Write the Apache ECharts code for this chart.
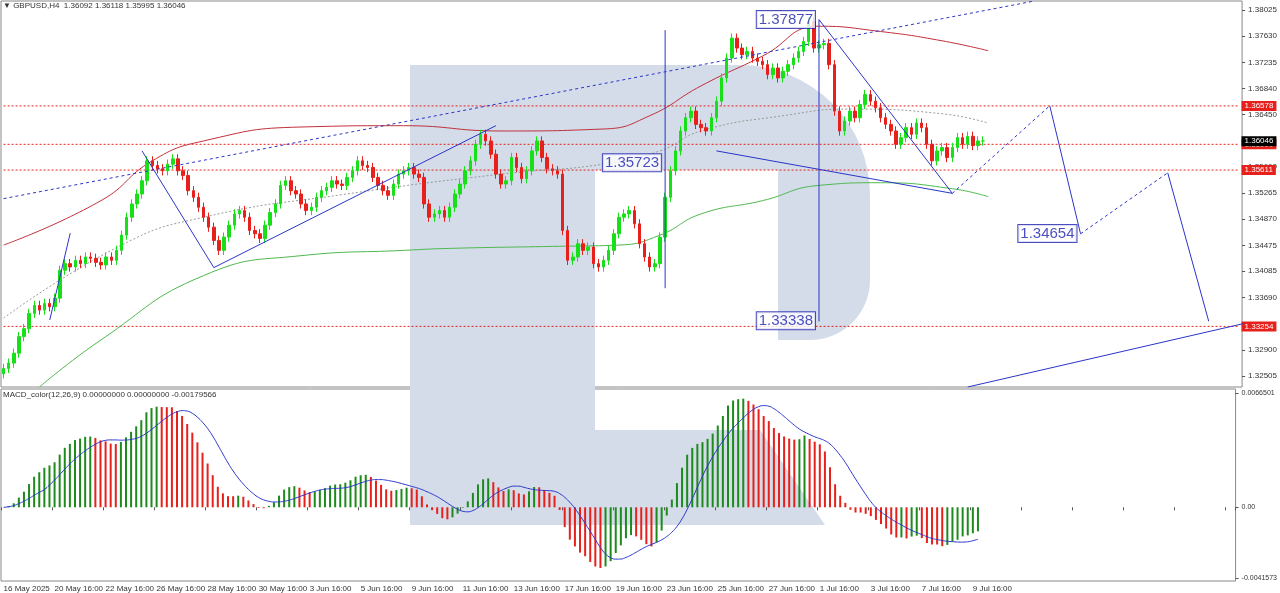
<!DOCTYPE html>
<html><head><meta charset="utf-8">
<script src="https://cdn.jsdelivr.net/npm/echarts@6/dist/echarts.min.js"></script>
<style>html,body{margin:0;padding:0;background:#fff}#c{width:1280px;height:593px}</style>
</head><body><div id="c"></div>
<script>
const closes=[1.3262,1.3270,1.3285,1.3310,1.3322,1.3345,1.3357,1.3350,1.3360,1.3355,1.3368,
1.3410,1.3420,1.3415,1.3425,1.3420,1.3430,1.3428,1.3422,1.3418,1.3430,1.3425,1.3440,
1.3463,1.3490,1.3510,1.3525,1.3545,1.3575,1.3568,1.3563,1.3560,1.3570,1.3578,1.3560,
1.3553,1.3530,1.3520,1.3505,1.3490,1.3475,1.3455,1.3440,1.3460,1.3478,1.3495,1.3500,1.3490,
1.3470,1.3465,1.3458,1.3478,1.3497,1.3510,1.3538,1.3545,1.3530,1.3525,1.3510,1.3500,1.3505,
1.3520,1.3530,1.3535,1.3545,1.3540,1.3538,1.3550,1.3560,
1.3575,1.3568,1.3565,1.3550,1.3538,1.3530,1.3523,1.3540,1.3555,1.3560,1.3565,1.3555,
1.3550,1.3510,1.3490,1.3495,1.3500,1.3490,1.3505,
1.3525,1.3540,1.3560,1.3575,1.3600,1.3615,1.3605,1.3585,1.3555,1.3540,
1.3545,1.3580,1.3565,1.3548,1.3560,1.3590,1.3605,1.3580,1.3563,1.3560,1.3555,
1.3470,1.3425,1.3430,1.3450,1.3440,1.3445,1.3420,1.3415,1.3425,1.3440,
1.3465,1.3490,1.3495,1.3500,1.3480,1.3450,1.3430,1.3415,
1.3420,1.3460,1.3520,1.3560,1.3590,1.3620,1.3640,1.3650,1.3630,1.3625,
1.3620,1.3640,1.3665,1.3700,1.3730,1.3760,1.3745,1.3735,1.3740,1.3730,
1.3725,1.3720,1.3705,1.3715,1.3700,1.3710,1.3720,1.3730,1.3740,1.3755,
1.3785,1.3745,1.3750,1.3752,1.3720,1.3650,1.3620,1.3635,1.3650,1.3640,
1.3660,1.3675,1.3665,1.3655,1.3640,1.3630,1.3620,1.3600,1.3610,1.3625,
1.3615,1.3632,1.3625,1.3600,1.3575,1.3590,1.3595,1.3580,1.3595,1.3610,1.3600,1.3612,1.3598,1.3605,1.3605];
const totalBars=242;
const dateLabels=["16 May 2025","20 May 16:00","22 May 16:00","26 May 16:00","28 May 16:00","30 May 16:00","3 Jun 16:00","5 Jun 16:00","9 Jun 16:00","11 Jun 16:00","13 Jun 16:00","17 Jun 16:00","19 Jun 16:00","23 Jun 16:00","25 Jun 16:00","27 Jun 16:00","1 Jul 16:00","3 Jul 16:00","7 Jul 16:00","9 Jul 16:00"];
const priceTicks=[1.32505,1.32900,1.33690,1.34085,1.34475,1.34870,1.35265,1.35660,1.36450,1.36840,1.37235,1.37630,1.38025];
const macdTicks=[-0.0041573,0,0.0066501];
const levelLines=[[1.36578,'1.36578'],[1.35999,'1.35999'],[1.35611,'1.35611'],[1.33254,'1.33254']];
const lastPrice=1.36046;
const maRed=[[0,1.3448],[19,1.3515],[29,1.3575],[38.5,1.3605],[58,1.3626],[77.5,1.3628],[97,1.3620],[116.5,1.3623],[126,1.3643],[136,1.3688],[148,1.3733],[159.3,1.3778],[171,1.3770],[182.7,1.3756],[192,1.3741]];
const maGreen=[[7.3,1.3234],[19,1.3305],[38.5,1.3402],[58,1.3432],[77.5,1.3440],[87.2,1.3443],[106.7,1.3446],[120.4,1.3448],[128.2,1.3463],[136,1.3495],[148,1.3515],[159.3,1.3538],[171,1.3542],[184.7,1.3533],[192,1.3521]];
const maDot=[[0,1.3338],[22.9,1.3448],[38.5,1.3490],[65.8,1.3524],[97,1.3555],[116.5,1.3570],[128.2,1.3590],[136,1.3620],[151.5,1.3643],[165.2,1.3653],[182.7,1.3646],[192,1.3632]];
const zig1=[[8.5,1.3335],[13.1,1.3466]];
const zig2=[[26.8,1.3590],[41.4,1.3414],[96.4,1.3628]];
const chan=[[138.9,1.3590],[184.7,1.3526]];
const drop=[[158.8,1.3788],[184.7,1.3526]];
const vert1=[[128.9,1.3772],[128.9,1.3383]];
const vert2=[[159.1,1.3788],[159.1,1.3333]];
const longDot=[[0,1.3518],[201.3,1.3816]];
const fcDot1=[[184.7,1.3526],[204.2,1.3658]];
const fcSolid1=[[204.2,1.3658],[210.4,1.3465]];
const fcDot2=[[210.4,1.3465],[227.2,1.3557]];
const fcSolid2=[[227.2,1.3557],[234.8,1.3333]];
const baseLine=[[187.6,1.3234],[241.5,1.3330]];
const boxLabels=[[158.8,1.3788,'1.37877'],[128.9,1.35723,'1.35723'],[210.4,1.34654,'1.34654'],[159.1,1.33338,'1.33338']];

const cats=[];for(let i=0;i<totalBars;i++)cats.push(String(i));
const candles=closes.map((c,i)=>{const o=i?closes[i-1]:c-0.0008;return [o,c,Math.min(o,c)-0.0007,Math.max(o,c)+0.0007];});
function ema(a,n){const k=2/(n+1);let e=a[0];return a.map(v=>(e=v*k+e*(1-k)));}
const e12=ema(closes,12),e26=ema(closes,26);
const macd=closes.map((c,i)=>e12[i]-e26[i]);
const sig=macd.map((v,i)=>{const s=macd.slice(Math.max(0,i-8),i+1);return s.reduce((a,b)=>a+b,0)/s.length;});
const hist=macd.map((v,i)=>({value:v,itemStyle:{color:(i&&v<macd[i-1])?'#e8201c':'#1c8a1c'}}));

const FONT='Liberation Sans';
const blue='#2b35c9';
function ln(data,dash){return {type:'line',xAxisIndex:0,yAxisIndex:0,data,symbol:'none',silent:true,lineStyle:{color:blue,width:1,type:dash?[3,3]:'solid'},z:5};}
function maLine(data,color,dash){return {type:'line',data,smooth:true,symbol:'none',silent:true,lineStyle:{color,width:1,type:dash?[2,2]:'solid'},z:3};}
function level(v,txt,bg,lineColor){return {type:'line',data:[[0,v],[totalBars-1,v]],symbol:'none',silent:true,z:2,
 lineStyle:{color:lineColor,width:1,type:[2,2]},
 endLabel:{show:true,formatter:txt,backgroundColor:bg,color:'#fff',fontSize:8,fontFamily:FONT,padding:[1,3],distance:2}};}

const wm='#d3dce8';
const chart=echarts.init(document.getElementById('c'));
chart.setOption({
animation:false,
textStyle:{fontFamily:FONT},
graphic:[
 {type:'rect',shape:{x:410,y:65,width:185,height:460},style:{fill:wm},z:0,silent:true},
 {type:'rect',shape:{x:595,y:65,width:275,height:275,r:[0,130,60,0]},style:{fill:wm},z:0,silent:true},
 {type:'rect',shape:{x:595,y:170,width:183,height:170},style:{fill:'#fff'},z:0,silent:true},
 {type:'polygon',shape:{points:[[595,430],[760,430],[825,525],[595,525]]},style:{fill:wm},z:0,silent:true},
 {type:'text',left:3,top:2,style:{text:'▼ GBPUSD,H4  1.36092 1.36118 1.35995 1.36046',fontSize:8,fill:'#333',fontFamily:FONT},z:10},
 {type:'text',left:3,top:391,style:{text:'MACD_color(12,26,9) 0.00000000 0.00000000 -0.00179566',fontSize:8,fill:'#333',fontFamily:FONT},z:10}
],
grid:[{left:1,right:37,top:1,height:386,show:true,borderColor:'#888',borderWidth:1},
      {left:1,right:37,top:389,height:192,show:true,borderColor:'#888',borderWidth:1}],
xAxis:[
 {type:'category',gridIndex:0,data:cats,boundaryGap:true,axisLine:{show:false},axisTick:{show:false},axisLabel:{show:false},splitLine:{show:false}},
 {type:'category',gridIndex:1,data:cats,boundaryGap:true,axisLine:{show:false},
  axisTick:{show:true,interval:9,length:3,lineStyle:{color:'#555'}},
  axisLabel:{interval:9,fontSize:8,fontFamily:FONT,color:'#333',align:'left',margin:4,hideOverlap:false,showMinLabel:true,formatter:(v,i)=>dateLabels[Math.round(i/10)]||''},splitLine:{show:false}}
],
yAxis:[
 {type:'value',gridIndex:0,position:'right',min:1.3234,max:1.3816,axisLine:{show:false},
  axisTick:{show:true,customValues:priceTicks,length:3,lineStyle:{color:'#555'}},
  axisLabel:{customValues:priceTicks,fontSize:8,fontFamily:FONT,color:'#333',margin:6,formatter:v=>v.toFixed(5)},splitLine:{show:false}},
 {type:'value',gridIndex:1,position:'right',min:-0.0043,max:0.0069,axisLine:{show:false},
  axisTick:{show:true,customValues:macdTicks,length:3},
  axisLabel:{customValues:macdTicks,fontSize:7,fontFamily:FONT,color:'#333',margin:6,formatter:v=>v===0?'0.00':v.toFixed(7)},splitLine:{show:false}}
],
series:[
 {type:'candlestick',xAxisIndex:0,yAxisIndex:0,data:candles,barWidth:3,
  itemStyle:{color:'#18e018',color0:'#e8201c',borderColor:'#18e018',borderColor0:'#e8201c',borderWidth:1},z:4},
 ...levelLines.map(l=>level(l[0],l[1],'#e8201c','#e8201c')),
 level(lastPrice,'1.36046','#000','rgba(0,0,0,0)'),
 maLine(maRed,'#c0303a',false),maLine(maGreen,'#4fb84f',false),maLine(maDot,'#999',true),
 ln(zig1),ln(zig2),ln(chan),ln(drop),ln(vert1),ln(vert2),ln(longDot,true),ln(fcDot1,true),ln(fcSolid1),ln(fcDot2,true),ln(fcSolid2),ln(baseLine),
 {type:'scatter',data:boxLabels.map(b=>[b[0],b[1]]),symbolSize:0,silent:true,z:8,
  label:{show:true,position:'left',distance:4,formatter:p=>boxLabels[p.dataIndex][2],color:'#1f22b0',fontSize:15,fontFamily:FONT,backgroundColor:'#fff',borderColor:'#1f22b0',borderWidth:1,padding:[1,2]}},
 {type:'bar',xAxisIndex:1,yAxisIndex:1,data:hist,barWidth:2,z:4},
 {type:'line',xAxisIndex:1,yAxisIndex:1,data:sig,symbol:'none',smooth:true,lineStyle:{color:'#2b35c9',width:1},z:5}
]});
</script></body></html>
